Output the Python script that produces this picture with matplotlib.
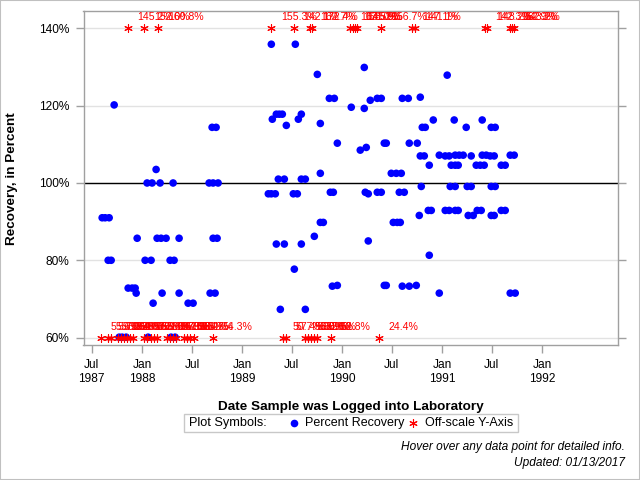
import numpy as np
import pandas as pd
import matplotlib
matplotlib.use('Agg')
import matplotlib.pyplot as plt
from matplotlib.lines import Line2D
from matplotlib.patches import Rectangle

plt.rcParams['font.family'] = ['Liberation Sans', 'DejaVu Sans']

# ---- data (dates as decimal years, recovery in percent) ----
rec_year = [
    1987.72, 1988.70, 1988.74, 1988.14, 1988.05, 1988.10, 1988.18, 1988.31, 1988.67, 1988.71,
    1988.76, 1987.60, 1987.63, 1987.67, 1987.95, 1988.15, 1988.19, 1988.24, 1988.37, 1988.71,
    1988.75, 1987.66, 1987.69, 1988.03, 1988.09, 1988.28, 1988.32, 1987.86, 1987.90, 1987.93,
    1987.94, 1988.20, 1988.37, 1988.68, 1988.73, 1988.11, 1988.46, 1988.51, 1987.77, 1987.80,
    1987.84, 1988.06, 1988.29, 1988.33,
    1989.29, 1989.53, 1989.75, 1990.22, 1989.87, 1989.92, 1990.35, 1990.39, 1990.28, 1990.09,
    1990.22, 1989.30, 1989.34, 1989.37, 1989.40, 1989.44, 1989.56, 1989.59, 1989.78, 1989.95,
    1990.18, 1990.24, 1990.42, 1989.36, 1989.42, 1989.59, 1989.63, 1989.78, 1989.26, 1989.29,
    1989.33, 1989.51, 1989.55, 1989.88, 1989.91, 1990.23, 1990.26, 1990.35, 1990.39, 1989.78,
    1989.81, 1989.72, 1989.34, 1989.42, 1989.59, 1990.26, 1989.52, 1989.90, 1989.95, 1990.42,
    1989.38, 1989.63,
    1991.05, 1990.60, 1990.66, 1990.78, 1990.80, 1990.83, 1990.91, 1991.12, 1991.24, 1991.40,
    1991.49, 1991.53, 1990.44, 1990.67, 1990.75, 1990.78, 1990.82, 1990.97, 1991.03, 1991.07,
    1991.13, 1991.17, 1991.21, 1991.29, 1991.40, 1991.44, 1991.48, 1991.52, 1991.68, 1991.72,
    1990.87, 1991.09, 1991.13, 1991.16, 1991.34, 1991.38, 1991.42, 1991.59, 1991.63, 1990.49,
    1990.54, 1990.59, 1990.57, 1990.62, 1990.79, 1991.08, 1991.13, 1991.25, 1991.29, 1991.49,
    1991.53, 1990.77, 1990.86, 1990.89, 1991.03, 1991.07, 1991.13, 1991.16, 1991.26, 1991.31,
    1991.35, 1991.39, 1991.49, 1991.52, 1991.59, 1991.63, 1990.51, 1990.55, 1990.58, 1990.87,
    1990.44, 1990.60, 1990.67, 1990.74, 1990.97, 1991.68, 1991.73,
]
rec_pct = [
    120.2, 114.4, 114.4, 103.5, 100.0, 100.0, 100.0, 100.0, 100.0, 100.0,
    100.0, 91.0, 91.0, 91.0, 85.7, 85.7, 85.7, 85.7, 85.7, 85.7,
    85.7, 80.0, 80.0, 80.0, 80.0, 80.0, 80.0, 72.8, 72.8, 72.8,
    71.5, 71.5, 71.5, 71.5, 71.5, 68.9, 68.9, 68.9, 60.1, 60.1,
    60.1, 60.1, 60.1, 60.1,
    135.9, 135.9, 128.1, 129.9, 121.9, 121.9, 121.9, 121.9, 121.4, 119.6,
    119.3, 116.5, 117.8, 117.8, 117.8, 114.9, 116.5, 117.8, 115.4, 110.3,
    108.5, 109.2, 110.3, 101.0, 101.0, 101.0, 101.0, 102.5, 97.2, 97.2,
    97.2, 97.2, 97.2, 97.6, 97.6, 97.6, 97.2, 97.6, 97.6, 89.8,
    89.8, 86.2, 84.2, 84.2, 84.2, 85.0, 77.7, 73.3, 73.5, 73.5,
    67.3, 67.3,
    127.9, 121.9, 121.9, 122.2, 114.4, 114.4, 116.3, 116.3, 114.4, 116.3,
    114.4, 114.4, 110.3, 110.3, 110.3, 107.0, 107.0, 107.2, 107.0, 107.0,
    107.2, 107.2, 107.2, 107.0, 107.2, 107.2, 107.0, 107.0, 107.2, 107.2,
    104.6, 104.6, 104.6, 104.6, 104.6, 104.6, 104.6, 104.6, 104.6, 102.5,
    102.5, 102.5, 97.6, 97.6, 99.1, 99.1, 99.1, 99.1, 99.1, 99.1,
    99.1, 91.6, 92.9, 92.9, 92.9, 92.9, 92.9, 92.9, 91.6, 91.6,
    92.9, 92.9, 91.6, 91.6, 92.9, 92.9, 89.8, 89.8, 89.8, 81.3,
    73.5, 73.3, 73.3, 73.5, 71.5, 71.5, 71.5,
]

hi_year = [1987.857, 1988.023, 1988.163, 1989.29, 1989.513, 1989.68, 1989.70, 1990.08, 1990.11,
           1990.13, 1990.15, 1990.39, 1990.70, 1990.73, 1991.43, 1991.45, 1991.68, 1991.70, 1991.72]
hi_pct = [145.2, 152.0, 160.8, 155.3, 142.1, 162.7, 172.4, 163.5, 158.0,
          171.2, 145.9, 156.7, 147.1, 141.1, 142.3, 148.2, 152.9, 162.3, 143.2]

lo_year = [1987.59, 1987.66, 1987.69, 1987.76, 1987.79, 1987.82, 1987.85, 1987.88, 1987.91,
           1988.02, 1988.05, 1988.09, 1988.12, 1988.15, 1988.25, 1988.28, 1988.31, 1988.34,
           1988.42, 1988.45, 1988.48, 1988.52, 1988.71,
           1989.41, 1989.44, 1989.63, 1989.66, 1989.69, 1989.72, 1989.75, 1989.89, 1990.37]
lo_pct = [55.6, 59.1, 57.3, 50.2, 58.4, 56.9, 53.7, 59.5, 48.0,
          57.8, 55.1, 52.6, 59.0, 56.2, 58.7, 54.9, 57.6, 51.3,
          59.3, 56.4, 58.1, 55.7, 54.3,
          50.7, 57.4, 56.0, 59.2, 53.9, 58.6, 55.5, 52.8, 24.4]

tick_dates = ['1987-07-01', '1988-01-01', '1988-07-01', '1989-01-01', '1989-07-01',
              '1990-01-01', '1990-07-01', '1991-01-01', '1991-07-01', '1992-01-01']
tick_labels = ['Jul\n1987', 'Jan\n1988', 'Jul', 'Jan\n1989', 'Jul',
               'Jan\n1990', 'Jul', 'Jan\n1991', 'Jul', 'Jan\n1992']
y_ticks = [60, 80, 100, 120, 140]
y_low, y_high = 60, 140


def to_date(years):
    out = []
    for y in years:
        yr = int(y)
        out.append(pd.Timestamp(f'{yr}-01-01') + pd.Timedelta(days=(y - yr) * 365.25))
    return pd.to_datetime(out)


BLUE = '#0000ff'
RED = '#ff0000'
GRAY = '#a0a0a0'

fig = plt.figure(figsize=(6.4, 4.8), dpi=100)
W, H = 640, 480
ax = fig.add_axes([83.5 / W, 1 - 345.3 / H, (618 - 83.5) / W, (345.3 - 11) / H])

ax.set_xlim(pd.Timestamp('1987-06-01'), pd.Timestamp('1992-10-04'))
ax.set_ylim(58.0, 144.5)

for yv in y_ticks:
    ax.axhline(yv, color='#e2e2e2', lw=1, zorder=0)
ax.axhline(100, color='black', lw=1, zorder=1)

ax.scatter(to_date(rec_year), rec_pct, s=30, color=BLUE, edgecolors='none', zorder=3)

star = (6, 2, 0)
hx = to_date(hi_year)
lx = to_date(lo_year)
ax.scatter(hx, np.clip(hi_pct, y_low, y_high), marker=star, s=30, color=RED, lw=0.8, zorder=4)
ax.scatter(lx, np.clip(lo_pct, y_low, y_high), marker=star, s=30, color=RED, lw=0.8, zorder=4)
for d, v in zip(hx, hi_pct):
    ax.annotate(f'{v:.1f}%', (d, y_high), xytext=(7, 8), textcoords='offset points',
                ha='left', va='center', color=RED, fontsize=7.6, zorder=5, annotation_clip=False)
for d, v in zip(lx, lo_pct):
    ax.annotate(f'{v:.1f}%', (d, y_low), xytext=(7, 7.5), textcoords='offset points',
                ha='left', va='center', color=RED, fontsize=7.6, zorder=5, annotation_clip=False)

ax.set_xticks(pd.to_datetime(tick_dates))
ax.set_xticklabels(tick_labels, fontsize=8.6, linespacing=1.2)
ax.set_yticks(y_ticks)
ax.set_yticklabels([f'{v}%' for v in y_ticks], fontsize=8.6)
ax.tick_params(axis='both', colors=GRAY, labelcolor='black', length=6, width=1)
ax.tick_params(axis='x', pad=4)
ax.tick_params(axis='y', pad=4, right=True)
for sp in ax.spines.values():
    sp.set_color(GRAY)
    sp.set_linewidth(1)

ax.set_xlabel('Date Sample was Logged into Laboratory', fontsize=9.7, fontweight='bold')
ax.xaxis.set_label_coords(0.5, (345.3 - 401) / 334.3)
ax.set_ylabel('Recovery, in Percent', fontsize=9.7, fontweight='bold')
ax.yaxis.set_label_coords((18.5 - 83.5) / 534.5, 0.5)

# legend box
fig.add_artist(Rectangle((184 / W, 1 - 431.7 / H), (517.7 - 184) / W, (431.7 - 414.3) / H,
                         transform=fig.transFigure, fill=False, edgecolor='#c8c8c8', lw=1))
ly = 1 - 423 / H
fig.text(189 / W, ly, 'Plot Symbols:', fontsize=9.2, va='center', ha='left')
fig.add_artist(Line2D([294.3 / W], [ly], marker='o', markersize=5.5, color=BLUE,
                      markeredgecolor='none', transform=fig.transFigure))
fig.text(305 / W, ly, 'Percent Recovery', fontsize=9, va='center', ha='left')
fig.add_artist(Line2D([413.3 / W], [ly], marker=star, markersize=6, color=RED, lw=0,
                      markeredgewidth=0.8, transform=fig.transFigure))
fig.text(425 / W, ly, 'Off-scale Y-Axis', fontsize=9, va='center', ha='left')

fig.text(625 / W, 1 - 447 / H, 'Hover over any data point for detailed info.',
         fontsize=8.6, style='italic', ha='right', va='center')
fig.text(625 / W, 1 - 463 / H, 'Updated: 01/13/2017',
         fontsize=8.6, style='italic', ha='right', va='center')

fig.add_artist(Rectangle((0, 0), 1, 1, transform=fig.transFigure, fill=False,
                         edgecolor='#c0c0c0', lw=1.5))

fig.savefig('out.png', dpi=100)
